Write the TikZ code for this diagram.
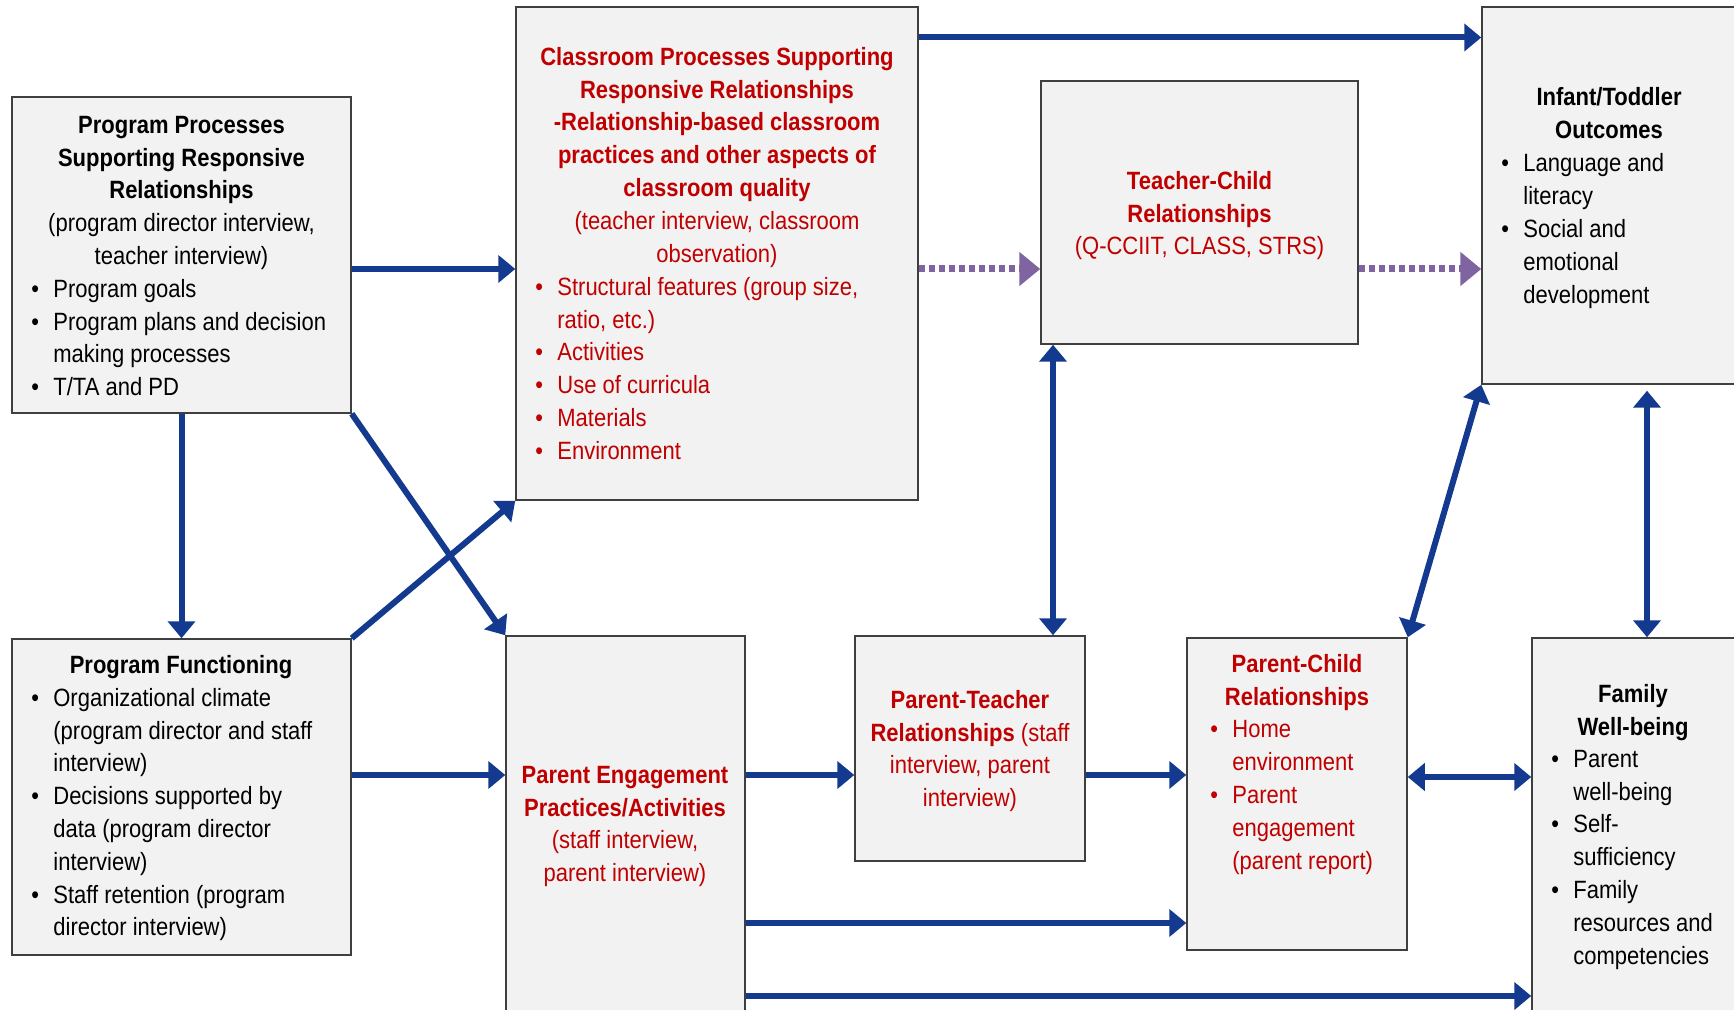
\documentclass[tikz,border=0pt]{standalone}
\usepackage{fontspec}
\setmainfont{Liberation Sans}[FakeStretch=0.88]
\usetikzlibrary{arrows.meta}
\definecolor{navy}{HTML}{133A8E}
\definecolor{lav}{HTML}{8064A2}
\definecolor{dred}{HTML}{C00000}
\definecolor{boxfill}{HTML}{F2F2F2}
\definecolor{boxline}{HTML}{3F3F3F}
\newcommand\bi[1]{\makebox[11pt][l]{\textbullet}#1}
\newcommand\bc[1]{\hspace*{11pt}#1}
\tikzset{
 box/.style={draw=boxline, fill=boxfill, line width=0.75pt, inner sep=0pt},
 txt/.style={inner sep=0pt, font=\fontsize{12.5}{16.4}\selectfont},
 ctxt/.style={txt, align=center, anchor=north},
 ltxt/.style={txt, align=left, anchor=north west},
 arr/.style={draw=navy, line width=3pt, -{Triangle[length=8.5pt,width=13.5pt]}},
 darr/.style={draw=navy, line width=3pt, {Triangle[length=8.5pt,width=13.5pt]}-{Triangle[length=8.5pt,width=13.5pt]}},
 dotarr/.style={draw=lav, line width=3.5pt, dash pattern=on 3.25pt off 1.75pt, -{Triangle[length=10.5pt,width=16.5pt]}},
}
\begin{document}
\begin{tikzpicture}[x=0.5pt,y=-0.5pt]
\useasboundingbox (0,0) rectangle (1734,1010);
\clip (0,0) rectangle (1734,1010);
\fill[white] (0,0) rectangle (1734,1010);
% boxes
\node[box, minimum width=169.5pt, minimum height=158pt] (b1) at (181.5,255) {};
\node[box, minimum width=201pt, minimum height=246.5pt] (b2) at (717,253.5) {};
\node[box, minimum width=158.5pt, minimum height=131.5pt] (b3) at (1199.5,212.5) {};
\node[box, minimum width=131.5pt, minimum height=188.5pt] (b4) at (1613.5,195.5) {};
\node[box, minimum width=169.5pt, minimum height=158pt] (b5) at (181.5,797) {};
\node[box, minimum width=119.5pt, minimum height=192pt] (b6) at (625.5,828) {};
\node[box, minimum width=115pt, minimum height=112.5pt] (b7) at (970,748.5) {};
\node[box, minimum width=110pt, minimum height=156pt] (b8) at (1297,794) {};
\node[box, minimum width=106.5pt, minimum height=191pt] (b9) at (1638.5,829) {};
% texts
\node[ctxt] (t1) at (181.5,110) {\strut\textbf{Program Processes}\\\textbf{Supporting Responsive}\\\textbf{Relationships}\\(program director interview,\\teacher interview)};
\node[ltxt] (l1) at (31,274) {\strut\bi{Program goals}\\\bi{Program plans and decision}\\\bc{making processes}\\\bi{T/TA and PD}};
\node[ctxt, text=dred] (t2) at (717,42) {\strut\textbf{Classroom Processes Supporting}\\\textbf{Responsive Relationships}\\\textbf{-Relationship-based classroom}\\\textbf{practices and other aspects of}\\\textbf{classroom quality}\\(teacher interview, classroom\\observation)};
\node[ltxt, text=dred] (l2) at (535,272) {\strut\bi{Structural features (group size,}\\\bc{ratio, etc.)}\\\bi{Activities}\\\bi{Use of curricula}\\\bi{Materials}\\\bi{Environment}};
\node[ctxt, text=dred] (t3) at (1199.5,166) {\strut\textbf{Teacher-Child}\\\textbf{Relationships}\\(Q-CCIIT, CLASS, STRS)};
\node[ctxt] (t4) at (1609,82) {\strut\textbf{Infant/Toddler}\\\textbf{Outcomes}};
\node[ltxt] (l4) at (1501,148.6) {\strut\bi{Language and}\\\bc{literacy}\\\bi{Social and}\\\bc{emotional}\\\bc{development}};
\node[ctxt] (t5) at (181,650) {\strut\textbf{Program Functioning}};
\node[ltxt] (l5) at (31,683) {\strut\bi{Organizational climate}\\\bc{(program director and staff}\\\bc{interview)}\\\bi{Decisions supported by}\\\bc{data (program director}\\\bc{interview)}\\\bi{Staff retention (program}\\\bc{director interview)}};
\node[ctxt, text=dred] (t6) at (625,760) {\strut\textbf{Parent Engagement}\\\textbf{Practices/Activities}\\(staff interview,\\parent interview)};
\node[ctxt, text=dred] (t7) at (970,685) {\strut\textbf{Parent-Teacher}\\\textbf{Relationships} (staff\\interview, parent\\interview)};
\node[ctxt, text=dred] (t8) at (1297,649) {\strut\textbf{Parent-Child}\\\textbf{Relationships}};
\node[ltxt, text=dred] (l8) at (1210,714.6) {\strut\bi{Home}\\\bc{environment}\\\bi{Parent}\\\bc{engagement}\\\bc{(parent report)}};
\node[ctxt] (t9) at (1633,679) {\strut\textbf{Family}\\\textbf{Well-being}};
\node[ltxt] (l9) at (1551,744) {\strut\bi{Parent}\\\bc{well-being}\\\bi{Self-}\\\bc{sufficiency}\\\bi{Family}\\\bc{resources and}\\\bc{competencies}};
% helper coordinates
\coordinate (yA) at (0,269);
\coordinate (yT) at (0,37.5);
\coordinate (yH) at (0,775);
\coordinate (yK) at (0,923);
\coordinate (yL) at (0,996);
\coordinate (yP) at (0,777);
\coordinate (xM) at (1053,0);
\coordinate (xO) at (1647,0);
% connectors
\draw[arr] (b1.east |- yA) -- (b2.west |- yA);
\draw[arr] (b2.east |- yT) -- (b4.west |- yT);
\draw[dotarr] (b2.east |- yA) -- (b3.west |- yA);
\draw[dotarr] (b3.east |- yA) -- (b4.west |- yA);
\draw[arr] (b1.south) -- (b5.north);
\draw[arr] (b1.south east) -- (b6.north west);
\draw[arr] (b5.north east) -- (b2.south west);
\draw[arr] (b5.east |- yH) -- (b6.west |- yH);
\draw[arr] (b6.east |- yH) -- (b7.west |- yH);
\draw[arr] (b7.east |- yH) -- (b8.west |- yH);
\draw[arr] (b6.east |- yK) -- (b8.west |- yK);
\draw[arr] (b6.east |- yL) -- (b9.west |- yL);
\draw[darr] (b3.south -| xM) -- (b7.north -| xM);
\draw[darr] (b8.north east) -- (b4.south west);
\draw[darr, shorten <=3pt] (b4.south -| xO) -- (b9.north -| xO);
\draw[darr] (b8.east |- yP) -- (b9.west |- yP);
\end{tikzpicture}
\end{document}
